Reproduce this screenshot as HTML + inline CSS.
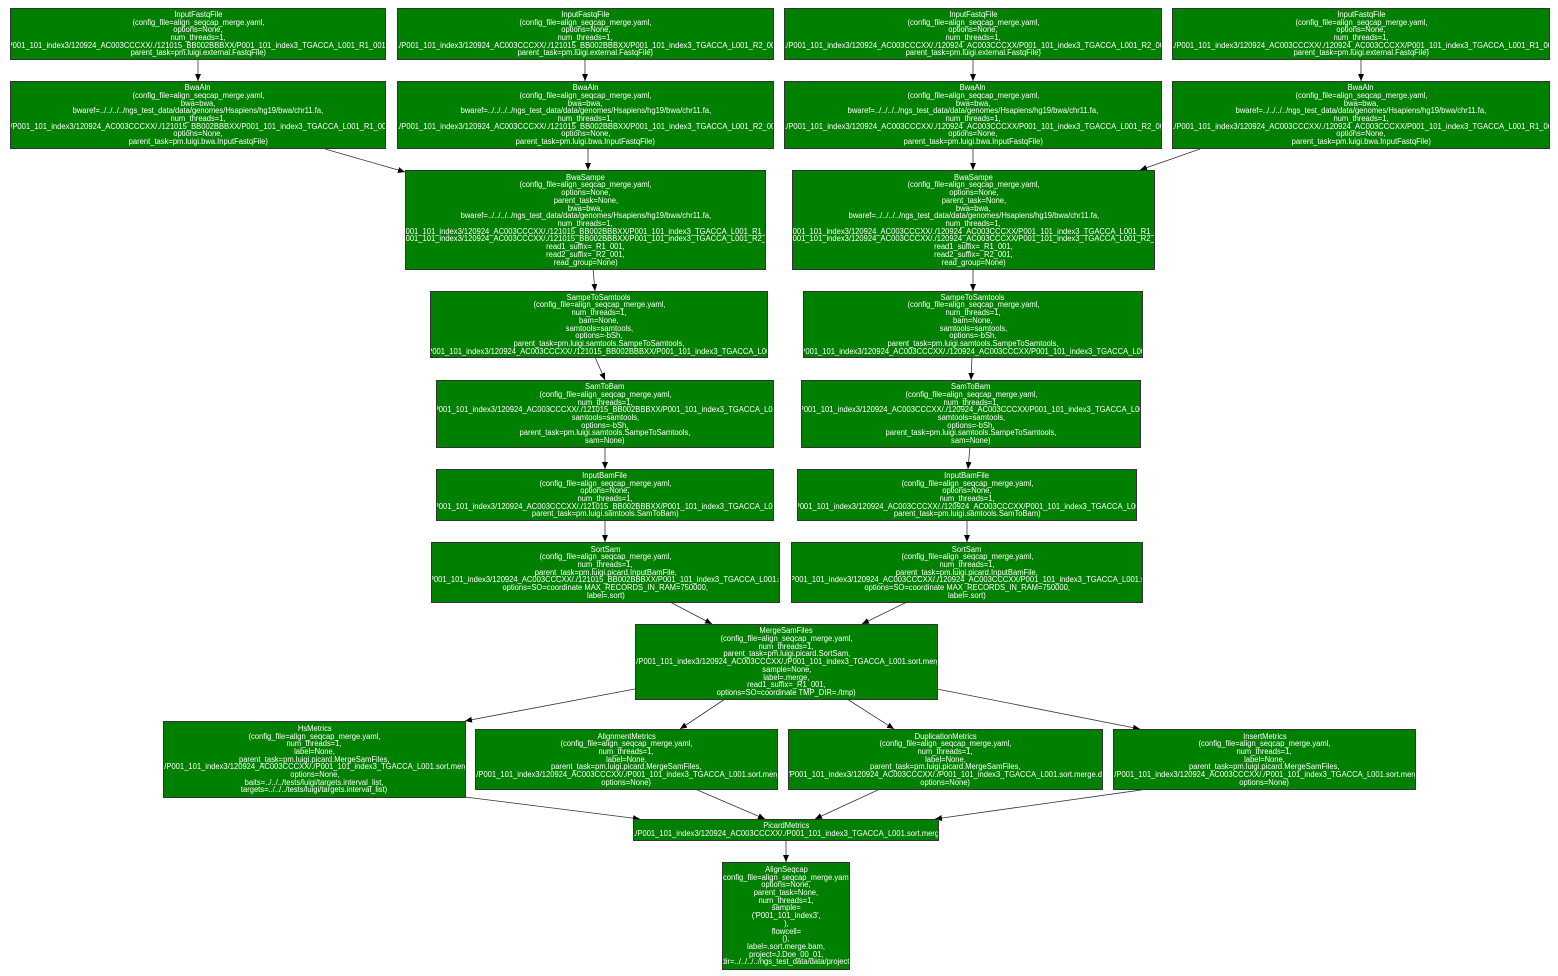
<!DOCTYPE html>
<html><head><meta charset="utf-8"><style>
body{margin:0;width:1558px;height:976px;background:#fff;position:relative;overflow:hidden;font-family:"Liberation Sans",sans-serif}
.n{position:absolute;background:#008000;border:1px solid #333;box-sizing:border-box;overflow:hidden;display:flex;flex-direction:column;justify-content:center;align-items:center;color:#fff;font-size:8px;line-height:7.7px}
.n span{display:block;white-space:nowrap;transform:scaleX(.95);transform-origin:center}
svg{position:absolute;left:0;top:0}
</style></head><body>
<svg width="1558" height="976">
<defs><marker id="a" markerWidth="8" markerHeight="8" refX="7" refY="3" orient="auto" markerUnits="userSpaceOnUse"><path d="M0,0L7,3L0,6z" fill="#000"/></marker></defs>
<g stroke="#333" stroke-width="0.8" fill="none" marker-end="url(#a)">
<line x1="198" y1="60" x2="198" y2="81"/><line x1="585" y1="60" x2="585" y2="81"/><line x1="973" y1="60" x2="973" y2="81"/><line x1="1361" y1="60" x2="1361" y2="81"/>
<line x1="325" y1="149" x2="405" y2="172"/><line x1="588" y1="149" x2="588" y2="170"/><line x1="973" y1="149" x2="973" y2="170"/><line x1="1200" y1="149" x2="1140" y2="170"/>
<line x1="593" y1="269" x2="595" y2="291"/><line x1="973" y1="269" x2="973" y2="291"/>
<line x1="595" y1="357" x2="605" y2="380"/><line x1="972" y1="357" x2="971" y2="380"/>
<line x1="605" y1="447" x2="605" y2="469"/><line x1="970" y1="447" x2="968" y2="469"/>
<line x1="605" y1="520" x2="605" y2="542"/><line x1="967" y1="520" x2="967" y2="542"/>
<line x1="670" y1="602" x2="712" y2="624"/><line x1="907" y1="602" x2="862" y2="624"/>
<line x1="635" y1="689" x2="465" y2="721"/><line x1="725" y1="699" x2="680" y2="729"/><line x1="847" y1="699" x2="894" y2="729"/><line x1="937" y1="689" x2="1140" y2="729"/>
<line x1="465" y1="797" x2="640" y2="819"/><line x1="695" y1="789" x2="765" y2="819"/><line x1="880" y1="789" x2="815" y2="819"/><line x1="1148" y1="789" x2="935" y2="819"/>
<line x1="786" y1="840" x2="786" y2="862"/>
</g></svg>

<div class="n" style="left:10px;top:8px;width:376px;height:52px"><span>InputFastqFile</span><span>(config_file=align_seqcap_merge.yaml,</span><span>options=None,</span><span>num_threads=1,</span><span>target=./P001_101_index3/120924_AC003CCCXX/./121015_BB002BBBXX/P001_101_index3_TGACCA_L001_R1_001.fastq.gz,</span><span>parent_task=pm.luigi.external.FastqFile)</span></div>
<div class="n" style="left:397px;top:8px;width:377px;height:52px"><span>InputFastqFile</span><span>(config_file=align_seqcap_merge.yaml,</span><span>options=None,</span><span>num_threads=1,</span><span>target=./P001_101_index3/120924_AC003CCCXX/./121015_BB002BBBXX/P001_101_index3_TGACCA_L001_R2_001.fastq</span><span>parent_task=pm.luigi.external.FastqFile)</span></div>
<div class="n" style="left:784px;top:8px;width:378px;height:52px"><span>InputFastqFile</span><span>(config_file=align_seqcap_merge.yaml,</span><span>options=None,</span><span>num_threads=1,</span><span>target=./P001_101_index3/120924_AC003CCCXX/./120924_AC003CCCXX/P001_101_index3_TGACCA_L001_R2_001.fastq</span><span>parent_task=pm.luigi.external.FastqFile)</span></div>
<div class="n" style="left:1172px;top:8px;width:378px;height:52px"><span>InputFastqFile</span><span>(config_file=align_seqcap_merge.yaml,</span><span>options=None,</span><span>num_threads=1,</span><span>target=./P001_101_index3/120924_AC003CCCXX/./120924_AC003CCCXX/P001_101_index3_TGACCA_L001_R1_001.fastq</span><span>parent_task=pm.luigi.external.FastqFile)</span></div>

<div class="n" style="left:10px;top:81px;width:376px;height:68px"><span>BwaAln</span><span>(config_file=align_seqcap_merge.yaml,</span><span>bwa=bwa,</span><span>bwaref=../../../../ngs_test_data/data/genomes/Hsapiens/hg19/bwa/chr11.fa,</span><span>num_threads=1,</span><span>target=./P001_101_index3/120924_AC003CCCXX/./121015_BB002BBBXX/P001_101_index3_TGACCA_L001_R1_001.fastq,</span><span>options=None,</span><span>parent_task=pm.luigi.bwa.InputFastqFile)</span></div>
<div class="n" style="left:397px;top:81px;width:377px;height:68px"><span>BwaAln</span><span>(config_file=align_seqcap_merge.yaml,</span><span>bwa=bwa,</span><span>bwaref=../../../../ngs_test_data/data/genomes/Hsapiens/hg19/bwa/chr11.fa,</span><span>num_threads=1,</span><span>target=./P001_101_index3/120924_AC003CCCXX/./121015_BB002BBBXX/P001_101_index3_TGACCA_L001_R2_001.fastq</span><span>options=None,</span><span>parent_task=pm.luigi.bwa.InputFastqFile)</span></div>
<div class="n" style="left:784px;top:81px;width:378px;height:68px"><span>BwaAln</span><span>(config_file=align_seqcap_merge.yaml,</span><span>bwa=bwa,</span><span>bwaref=../../../../ngs_test_data/data/genomes/Hsapiens/hg19/bwa/chr11.fa,</span><span>num_threads=1,</span><span>target=./P001_101_index3/120924_AC003CCCXX/./120924_AC003CCCXX/P001_101_index3_TGACCA_L001_R2_001.fastq</span><span>options=None,</span><span>parent_task=pm.luigi.bwa.InputFastqFile)</span></div>
<div class="n" style="left:1172px;top:81px;width:378px;height:68px"><span>BwaAln</span><span>(config_file=align_seqcap_merge.yaml,</span><span>bwa=bwa,</span><span>bwaref=../../../../ngs_test_data/data/genomes/Hsapiens/hg19/bwa/chr11.fa,</span><span>num_threads=1,</span><span>target=./P001_101_index3/120924_AC003CCCXX/./120924_AC003CCCXX/P001_101_index3_TGACCA_L001_R1_001.fastq</span><span>options=None,</span><span>parent_task=pm.luigi.bwa.InputFastqFile)</span></div>

<div class="n" style="left:405px;top:170px;width:361px;height:100px"><span>BwaSampe</span><span>(config_file=align_seqcap_merge.yaml,</span><span>options=None,</span><span>parent_task=None,</span><span>bwa=bwa,</span><span>bwaref=../../../../ngs_test_data/data/genomes/Hsapiens/hg19/bwa/chr11.fa,</span><span>num_threads=1,</span><span>sai1=./P001_101_index3/120924_AC003CCCXX/./121015_BB002BBBXX/P001_101_index3_TGACCA_L001_R1_001.sai,</span><span>sai2=./P001_101_index3/120924_AC003CCCXX/./121015_BB002BBBXX/P001_101_index3_TGACCA_L001_R2_001.sai,</span><span>read1_suffix=_R1_001,</span><span>read2_suffix=_R2_001,</span><span>read_group=None)</span></div>
<div class="n" style="left:792px;top:170px;width:363px;height:100px"><span>BwaSampe</span><span>(config_file=align_seqcap_merge.yaml,</span><span>options=None,</span><span>parent_task=None,</span><span>bwa=bwa,</span><span>bwaref=../../../../ngs_test_data/data/genomes/Hsapiens/hg19/bwa/chr11.fa,</span><span>num_threads=1,</span><span>sai1=./P001_101_index3/120924_AC003CCCXX/./120924_AC003CCCXX/P001_101_index3_TGACCA_L001_R1_001.sai,</span><span>sai2=./P001_101_index3/120924_AC003CCCXX/./120924_AC003CCCXX/P001_101_index3_TGACCA_L001_R2_001.sai,</span><span>read1_suffix=_R1_001,</span><span>read2_suffix=_R2_001,</span><span>read_group=None)</span></div>

<div class="n" style="left:430px;top:291px;width:338px;height:67px"><span>SampeToSamtools</span><span>(config_file=align_seqcap_merge.yaml,</span><span>num_threads=1,</span><span>bam=None,</span><span>samtools=samtools,</span><span>options=-bSh,</span><span>parent_task=pm.luigi.samtools.SampeToSamtools,</span><span>sam=./P001_101_index3/120924_AC003CCCXX/./121015_BB002BBBXX/P001_101_index3_TGACCA_L001.sam)</span></div>
<div class="n" style="left:803px;top:291px;width:340px;height:67px"><span>SampeToSamtools</span><span>(config_file=align_seqcap_merge.yaml,</span><span>num_threads=1,</span><span>bam=None,</span><span>samtools=samtools,</span><span>options=-bSh,</span><span>parent_task=pm.luigi.samtools.SampeToSamtools,</span><span>sam=./P001_101_index3/120924_AC003CCCXX/./120924_AC003CCCXX/P001_101_index3_TGACCA_L001.sam)</span></div>

<div class="n" style="left:436px;top:380px;width:338px;height:68px"><span>SamToBam</span><span>(config_file=align_seqcap_merge.yaml,</span><span>num_threads=1,</span><span>bam=./P001_101_index3/120924_AC003CCCXX/./121015_BB002BBBXX/P001_101_index3_TGACCA_L001.bam,</span><span>samtools=samtools,</span><span>options=-bSh,</span><span>parent_task=pm.luigi.samtools.SampeToSamtools,</span><span>sam=None)</span></div>
<div class="n" style="left:801px;top:380px;width:340px;height:68px"><span>SamToBam</span><span>(config_file=align_seqcap_merge.yaml,</span><span>num_threads=1,</span><span>bam=./P001_101_index3/120924_AC003CCCXX/./120924_AC003CCCXX/P001_101_index3_TGACCA_L001.bam,</span><span>samtools=samtools,</span><span>options=-bSh,</span><span>parent_task=pm.luigi.samtools.SampeToSamtools,</span><span>sam=None)</span></div>

<div class="n" style="left:436px;top:469px;width:338px;height:52px"><span>InputBamFile</span><span>(config_file=align_seqcap_merge.yaml,</span><span>options=None,</span><span>num_threads=1,</span><span>bam=./P001_101_index3/120924_AC003CCCXX/./121015_BB002BBBXX/P001_101_index3_TGACCA_L001.bam,</span><span>parent_task=pm.luigi.samtools.SamToBam)</span></div>
<div class="n" style="left:797px;top:469px;width:340px;height:52px"><span>InputBamFile</span><span>(config_file=align_seqcap_merge.yaml,</span><span>options=None,</span><span>num_threads=1,</span><span>bam=./P001_101_index3/120924_AC003CCCXX/./120924_AC003CCCXX/P001_101_index3_TGACCA_L001.bam,</span><span>parent_task=pm.luigi.samtools.SamToBam)</span></div>

<div class="n" style="left:431px;top:542px;width:349px;height:61px"><span>SortSam</span><span>(config_file=align_seqcap_merge.yaml,</span><span>num_threads=1,</span><span>parent_task=pm.luigi.picard.InputBamFile,</span><span>target=./P001_101_index3/120924_AC003CCCXX/./121015_BB002BBBXX/P001_101_index3_TGACCA_L001.sort.bam,</span><span>options=SO=coordinate MAX_RECORDS_IN_RAM=750000,</span><span>label=.sort)</span></div>
<div class="n" style="left:791px;top:542px;width:352px;height:61px"><span>SortSam</span><span>(config_file=align_seqcap_merge.yaml,</span><span>num_threads=1,</span><span>parent_task=pm.luigi.picard.InputBamFile,</span><span>target=./P001_101_index3/120924_AC003CCCXX/./120924_AC003CCCXX/P001_101_index3_TGACCA_L001.sort.bam,</span><span>options=SO=coordinate MAX_RECORDS_IN_RAM=750000,</span><span>label=.sort)</span></div>

<div class="n" style="left:635px;top:624px;width:303px;height:76px"><span>MergeSamFiles</span><span>(config_file=align_seqcap_merge.yaml,</span><span>num_threads=1,</span><span>parent_task=pm.luigi.picard.SortSam,</span><span>target=./P001_101_index3/120924_AC003CCCXX/./P001_101_index3_TGACCA_L001.sort.merge.bam,</span><span>sample=None,</span><span>label=.merge,</span><span>read1_suffix=_R1_001,</span><span>options=SO=coordinate TMP_DIR=./tmp)</span></div>

<div class="n" style="left:163px;top:721px;width:303px;height:77px"><span>HsMetrics</span><span>(config_file=align_seqcap_merge.yaml,</span><span>num_threads=1,</span><span>label=None,</span><span>parent_task=pm.luigi.picard.MergeSamFiles,</span><span>target=./P001_101_index3/120924_AC003CCCXX/./P001_101_index3_TGACCA_L001.sort.merge.bam,</span><span>options=None,</span><span>baits=../../../tests/luigi/targets.interval_list,</span><span>targets=../../../tests/luigi/targets.interval_list)</span></div>
<div class="n" style="left:475px;top:729px;width:303px;height:61px"><span>AlignmentMetrics</span><span>(config_file=align_seqcap_merge.yaml,</span><span>num_threads=1,</span><span>label=None,</span><span>parent_task=pm.luigi.picard.MergeSamFiles,</span><span>target=./P001_101_index3/120924_AC003CCCXX/./P001_101_index3_TGACCA_L001.sort.merge.bam,</span><span>options=None)</span></div>
<div class="n" style="left:788px;top:729px;width:315px;height:61px"><span>DuplicationMetrics</span><span>(config_file=align_seqcap_merge.yaml,</span><span>num_threads=1,</span><span>label=None,</span><span>parent_task=pm.luigi.picard.MergeSamFiles,</span><span>target=./P001_101_index3/120924_AC003CCCXX/./P001_101_index3_TGACCA_L001.sort.merge.dup.bam,</span><span>options=None)</span></div>
<div class="n" style="left:1113px;top:729px;width:303px;height:61px"><span>InsertMetrics</span><span>(config_file=align_seqcap_merge.yaml,</span><span>num_threads=1,</span><span>label=None,</span><span>parent_task=pm.luigi.picard.MergeSamFiles,</span><span>target=./P001_101_index3/120924_AC003CCCXX/./P001_101_index3_TGACCA_L001.sort.merge.bam,</span><span>options=None)</span></div>

<div class="n" style="left:633px;top:819px;width:306px;height:22px"><span>PicardMetrics</span><span>target=./P001_101_index3/120924_AC003CCCXX/./P001_101_index3_TGACCA_L001.sort.merge.bam)</span></div>

<div class="n" style="left:722px;top:862px;width:128px;height:108px"><span>AlignSeqcap</span><span>(config_file=align_seqcap_merge.yaml,</span><span>options=None,</span><span>parent_task=None,</span><span>num_threads=1,</span><span>sample=</span><span>('P001_101_index3',</span><span>),</span><span>flowcell=</span><span>(),</span><span>label=.sort.merge.bam,</span><span>project=J.Doe_00_01,</span><span>indir=../../../../ngs_test_data/data/projects)</span></div>
</body></html>
